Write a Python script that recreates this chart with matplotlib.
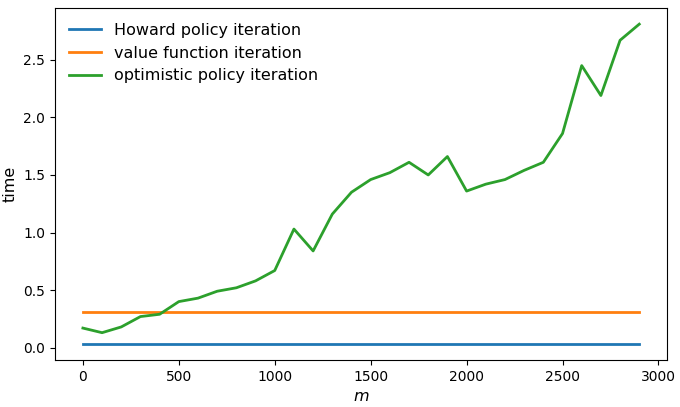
import numpy as np
import matplotlib.pyplot as plt

m_vals = np.arange(0, 3000, 100)
howard = [0.03] * len(m_vals)
vfi = [0.31] * len(m_vals)
opi = [0.17, 0.13, 0.18, 0.27, 0.29, 0.40, 0.43, 0.49, 0.52, 0.58,
       0.67, 1.03, 0.84, 1.16, 1.35, 1.46, 1.52, 1.61, 1.50, 1.66,
       1.36, 1.42, 1.46, 1.54, 1.61, 1.86, 2.45, 2.19, 2.67, 2.81]

fig, ax = plt.subplots(figsize=(6.8, 4.07), dpi=100)
fig.subplots_adjust(left=0.081, right=0.981, top=0.98, bottom=0.115)
ax.plot(m_vals, howard, lw=2, label="Howard policy iteration")
ax.plot(m_vals, vfi, lw=2, label="value function iteration")
ax.plot(m_vals, opi, lw=2, label="optimistic policy iteration")
ax.set_xlabel("$m$", fontsize=11.5)
ax.set_ylabel("time", fontsize=11.5)
ax.legend(frameon=False, fontsize=11.5, loc="upper left")
fig.savefig("out.png")
